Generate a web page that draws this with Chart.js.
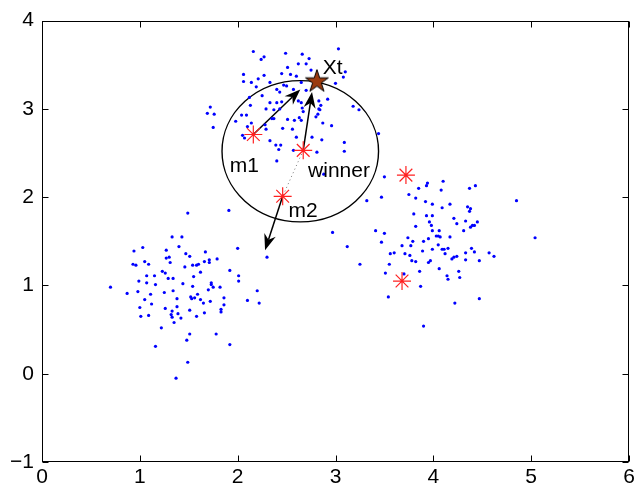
<!DOCTYPE html>
<html>
<head>
<meta charset="utf-8">
<script src="https://cdn.jsdelivr.net/npm/chart.js@4/dist/chart.umd.min.js"></script>
<style>
  html, body { margin: 0; padding: 0; background: #fff; }
  #plot { display: block; }
</style>
</head>
<body>
<canvas id="plot" width="642" height="494"></canvas>
<script>
/* ========= Data ========= */
// upper cluster (around the winner)
const upperX = [2.16,2.24,2.27,2.49,2.51,2.06,2.27,2.45,2.54,2.06,2.14,2.21,2.33,2.19,2.47,2.50,2.40,2.43,2.25,2.12,2.33,2.40,2.45,2.13,1.72,
  3.03,2.66,2.73,2.62,2.70,2.75,2.60,3.10,3.08,2.65,3.00,2.57,2.70,2.92,2.83,2.62,2.65,2.85,2.66,3.18,3.24,
  1.69,1.76,2.04,2.09,2.29,2.37,2.43,1.98,2.14,2.10,2.35,2.37,2.51,2.46,2.28,2.29,1.75,2.05,2.07,2.33,2.39,2.44,2.42,2.40,
  2.67,2.83,2.84,2.82,2.80,2.63,2.65,2.58,2.56,2.87,2.96,2.60,2.76,2.86,3.09,3.09,2.81,2.57,3.44,2.88];
const upperY = [3.65,3.56,3.59,3.63,3.47,3.39,3.38,3.40,3.39,3.31,3.30,3.34,3.30,3.25,3.27,3.26,3.22,3.19,3.15,3.13,3.07,3.07,3.08,3.04,3.02,
  3.68,3.62,3.57,3.51,3.51,3.44,3.37,3.42,3.36,3.30,3.29,3.22,3.21,3.11,3.09,3.09,3.07,3.04,3.01,3.03,2.99,
  2.95,2.94,2.93,2.93,3.00,2.99,3.00,2.86,2.84,2.80,2.89,2.89,2.88,2.78,2.82,2.77,2.79,2.70,2.67,2.64,2.59,2.59,2.54,2.41,
  2.97,3.00,2.99,2.94,2.91,2.90,2.87,2.87,2.77,2.84,2.81,2.68,2.68,2.65,2.62,2.52,2.51,2.53,2.72,2.26];

// lower-left cluster
const leftX = [1.49,1.91,1.33,1.43,1.03,0.94,1.40,1.27,1.67,1.47,1.51,1.27,1.30,1.79,1.71,1.66,1.71,0.93,0.96,1.05,
  1.09,1.31,1.46,1.54,1.58,1.60,2.00,2.30,1.92,2.01,2.01,1.62,1.07,1.15,1.23,1.26,1.29,1.34,1.55,0.99,
  1.07,1.16,1.44,1.54,1.73,1.73,1.75,1.70,1.82,0.70,0.87,0.98,1.11,1.25,1.34,1.59,1.52,1.53,1.56,1.62,
  1.65,1.72,1.86,2.20,2.10,2.22,1.05,1.12,1.38,1.00,1.26,1.38,1.33,1.32,1.33,1.39,1.42,1.51,1.58,1.66,
  1.83,1.83,1.86,1.01,1.09,1.35,1.22,1.51,1.48,1.78,1.16,1.92,1.49,1.37];
const leftY = [1.82,1.85,1.55,1.55,1.43,1.39,1.44,1.40,1.38,1.36,1.33,1.31,1.32,1.30,1.29,1.27,1.26,1.24,1.23,1.27,
  1.24,1.26,1.21,1.23,1.23,1.24,1.42,1.32,1.17,1.11,1.05,1.15,1.11,1.11,1.16,1.14,1.08,1.08,1.10,1.05,
  1.03,1.01,1.02,0.99,1.03,1.01,0.98,0.95,0.98,0.98,0.91,0.93,0.90,0.92,0.94,0.90,0.87,0.85,0.86,0.84,
  0.80,0.82,0.86,0.94,0.83,0.80,0.84,0.79,0.85,0.75,0.74,0.76,0.71,0.67,0.64,0.68,0.63,0.72,0.65,0.69,
  0.73,0.70,0.78,0.65,0.66,0.58,0.52,0.45,0.38,0.45,0.31,0.33,0.13,-0.05];

// right cluster
const rightX = [3.50,3.32,3.47,3.75,3.82,3.85,3.93,3.94,4.10,4.08,3.92,3.99,4.09,4.17,4.37,4.43,4.35,4.38,4.37,4.85,
  3.80,3.93,3.99,4.21,4.24,3.96,3.98,3.82,4.33,4.45,4.38,4.40,4.42,4.31,3.99,4.06,4.03,4.05,4.07,4.17,
  2.97,3.41,3.50,3.12,3.47,3.74,3.79,3.77,3.68,3.90,3.95,4.05,3.99,4.09,4.11,4.15,3.89,3.56,3.60,3.71,
  3.76,3.78,3.82,3.95,3.97,4.12,4.19,4.21,4.24,4.33,4.39,4.42,4.33,4.47,4.57,4.62,5.04,3.25,3.55,3.51,
  3.70,3.86,4.06,4.14,4.15,4.26,4.27,3.87,3.54,4.22,4.47,3.90];
const rightY = [2.23,1.96,2.00,2.03,1.99,2.10,2.13,2.16,2.18,2.08,1.95,1.92,1.88,1.92,2.10,2.13,1.89,1.87,1.84,1.96,
  1.81,1.79,1.79,1.76,1.70,1.72,1.68,1.67,1.73,1.72,1.66,1.68,1.68,1.62,1.62,1.62,1.56,1.56,1.55,1.55,
  1.60,1.62,1.59,1.44,1.49,1.54,1.50,1.45,1.45,1.50,1.53,1.46,1.41,1.41,1.41,1.42,1.39,1.36,1.37,1.36,
  1.34,1.28,1.27,1.26,1.28,1.36,1.30,1.32,1.33,1.37,1.42,1.38,1.29,1.28,1.37,1.33,1.54,1.24,1.24,1.14,
  1.13,1.16,1.19,1.11,1.07,1.16,1.09,0.99,0.87,0.80,0.85,0.54];

// prototypes (red stars): m1, winner, m2, and two more
const protoX = [2.16, 2.67, 2.46, 3.72, 3.68];
const protoY = [2.71, 2.53, 2.01, 2.25, 1.05];

// input sample Xt
const sampleX = [2.81];
const sampleY = [3.31];

// arrows: from -> to
const arrowFromX = [2.16, 2.67, 2.46];
const arrowFromY = [2.71, 2.53, 2.01];
const arrowToX   = [2.64, 2.76, 2.28];
const arrowToY   = [3.22, 3.19, 1.40];

// circle around the winner
const circleCenter = [2.64, 2.52];
const circleRadius = 0.80;

// text labels
const labelText = ['Xt', 'm1', 'winner', 'm2'];
const labelX    = [2.87, 1.92, 2.72, 2.52];
const labelY    = [3.40, 2.29, 2.23, 1.78];

const xTicks = [0, 1, 2, 3, 4, 5, 6];
const yTicks = [-1, 0, 1, 2, 3, 4];

/* ========= Helpers ========= */
const FONT = "'Liberation Sans', Arial, Helvetica, sans-serif";
const zip = (xs, ys) => xs.map((x, i) => ({ x, y: ys[i] }));

// brown pentagram for Xt
function makePentagram(R, fill) {
  const c = document.createElement('canvas');
  const s = Math.ceil(R * 2 + 4);
  c.width = s; c.height = s;
  const g = c.getContext('2d');
  const r = R * 0.382;
  g.beginPath();
  for (let i = 0; i < 10; i++) {
    const a = -Math.PI / 2 + i * Math.PI / 5;
    const rr = i % 2 ? r : R;
    const px = s / 2 + rr * Math.cos(a);
    const py = s / 2 + rr * Math.sin(a);
    i ? g.lineTo(px, py) : g.moveTo(px, py);
  }
  g.closePath();
  g.fillStyle = fill;
  g.fill();
  g.lineWidth = 1;
  g.strokeStyle = '#000';
  g.stroke();
  return c;
}

function arrow(ctx, x0, y0, x1, y1) {
  const a = Math.atan2(y1 - y0, x1 - x0);
  const L = 16, W = 6, N = 11;
  const cx = Math.cos(a), sy = Math.sin(a);
  const nx = x1 - N * cx, ny = y1 - N * sy;
  ctx.beginPath();
  ctx.moveTo(x0, y0);
  ctx.lineTo(nx, ny);
  ctx.lineWidth = 1.5;
  ctx.strokeStyle = '#000';
  ctx.stroke();
  ctx.beginPath();
  ctx.moveTo(x1, y1);
  ctx.lineTo(x1 - L * cx - W * sy, y1 - L * sy + W * cx);
  ctx.lineTo(nx, ny);
  ctx.lineTo(x1 - L * cx + W * sy, y1 - L * sy - W * cx);
  ctx.closePath();
  ctx.fillStyle = '#000';
  ctx.fill();
}

/* ========= Overlay plugin ========= */
const overlay = {
  id: 'overlay',
  beforeDatasetsDraw(chart) {
    const { ctx, scales: { x, y } } = chart;
    ctx.save();
    // circle
    const cx = x.getPixelForValue(circleCenter[0]);
    const cy = y.getPixelForValue(circleCenter[1]);
    const rx = x.getPixelForValue(circleCenter[0] + circleRadius) - cx;
    const ry = cy - y.getPixelForValue(circleCenter[1] + circleRadius);
    ctx.beginPath();
    ctx.ellipse(cx, cy, rx, ry, 0, 0, Math.PI * 2);
    ctx.lineWidth = 1.4;
    ctx.strokeStyle = '#000';
    ctx.stroke();
    // dotted trail winner -> m2
    ctx.beginPath();
    ctx.setLineDash([1, 3]);
    ctx.moveTo(x.getPixelForValue(protoX[1]), y.getPixelForValue(protoY[1]));
    ctx.lineTo(x.getPixelForValue(protoX[2]), y.getPixelForValue(protoY[2]));
    ctx.lineWidth = 1;
    ctx.strokeStyle = '#777';
    ctx.stroke();
    ctx.setLineDash([]);
    // arrows
    arrowFromX.forEach((fx, i) => {
      arrow(ctx,
        x.getPixelForValue(fx), y.getPixelForValue(arrowFromY[i]),
        x.getPixelForValue(arrowToX[i]), y.getPixelForValue(arrowToY[i]));
    });
    ctx.restore();
  },
  afterDatasetsDraw(chart) {
    const { ctx, chartArea: a, scales: { x, y } } = chart;
    ctx.save();
    // labels
    ctx.font = `21px ${FONT}`;
    ctx.fillStyle = '#000';
    ctx.textAlign = 'left';
    ctx.textBaseline = 'alphabetic';
    labelText.forEach((t, i) => {
      ctx.fillText(t, x.getPixelForValue(labelX[i]), y.getPixelForValue(labelY[i]));
    });
    // box
    ctx.lineWidth = 1;
    ctx.strokeStyle = '#000';
    const L = Math.round(a.left) + 0.5, R = Math.round(a.right) - 0.5;
    const T = Math.round(a.top) + 0.5, B = Math.round(a.bottom) - 0.5;
    ctx.strokeRect(L, T, R - L, B - T);
    // inward ticks on all sides
    ctx.beginPath();
    xTicks.forEach(v => {
      const px = Math.round(x.getPixelForValue(v)) + 0.5;
      ctx.moveTo(px, B); ctx.lineTo(px, B - 6);
      ctx.moveTo(px, T); ctx.lineTo(px, T + 6);
    });
    yTicks.forEach(v => {
      const py = Math.round(y.getPixelForValue(v)) + 0.5;
      ctx.moveTo(L, py); ctx.lineTo(L + 6, py);
      ctx.moveTo(R, py); ctx.lineTo(R - 6, py);
    });
    ctx.stroke();
    ctx.restore();
  }
};

/* ========= Chart ========= */
const tickFont = { family: FONT, size: 21 };
const minus = v => String(v).replace('-', '\u2212');

new Chart(document.getElementById('plot'), {
  type: 'scatter',
  data: {
    datasets: [
      {
        data: zip(sampleX, sampleY),
        pointStyle: makePentagram(12, '#9a3a0e'),
        pointRadius: 12
      },
      {
        data: zip(protoX, protoY),
        pointStyle: 'star',
        pointRadius: 9,
        borderColor: '#ff2020',
        borderWidth: 1.2,
        backgroundColor: '#ff2020'
      },
      {
        data: zip(upperX, upperY).concat(zip(leftX, leftY), zip(rightX, rightY)),
        pointRadius: 1.6,
        borderWidth: 0,
        backgroundColor: '#0000ff'
      }
    ]
  },
  options: {
    responsive: false,
    animation: false,
    devicePixelRatio: 1,
    events: [],
    layout: { padding: { top: 15, right: 6, left: 0, bottom: 0 } },
    plugins: { legend: { display: false }, tooltip: { enabled: false } },
    scales: {
      x: {
        type: 'linear', min: 0, max: 6,
        afterFit: s => { s.height = 32; },
        afterBuildTicks: s => { s.ticks = xTicks.map(value => ({ value })); },
        grid: { display: false, drawTicks: false },
        border: { display: false },
        ticks: { font: tickFont, color: '#000', padding: 3, maxRotation: 0, autoSkip: false, callback: minus }
      },
      y: {
        type: 'linear', min: -1, max: 4,
        afterFit: s => { s.width = 42; },
        afterBuildTicks: s => { s.ticks = yTicks.map(value => ({ value })); },
        grid: { display: false, drawTicks: false },
        border: { display: false },
        ticks: { font: tickFont, color: '#000', padding: 8, autoSkip: false, callback: minus }
      }
    }
  },
  plugins: [overlay]
});
</script>
</body>
</html>
